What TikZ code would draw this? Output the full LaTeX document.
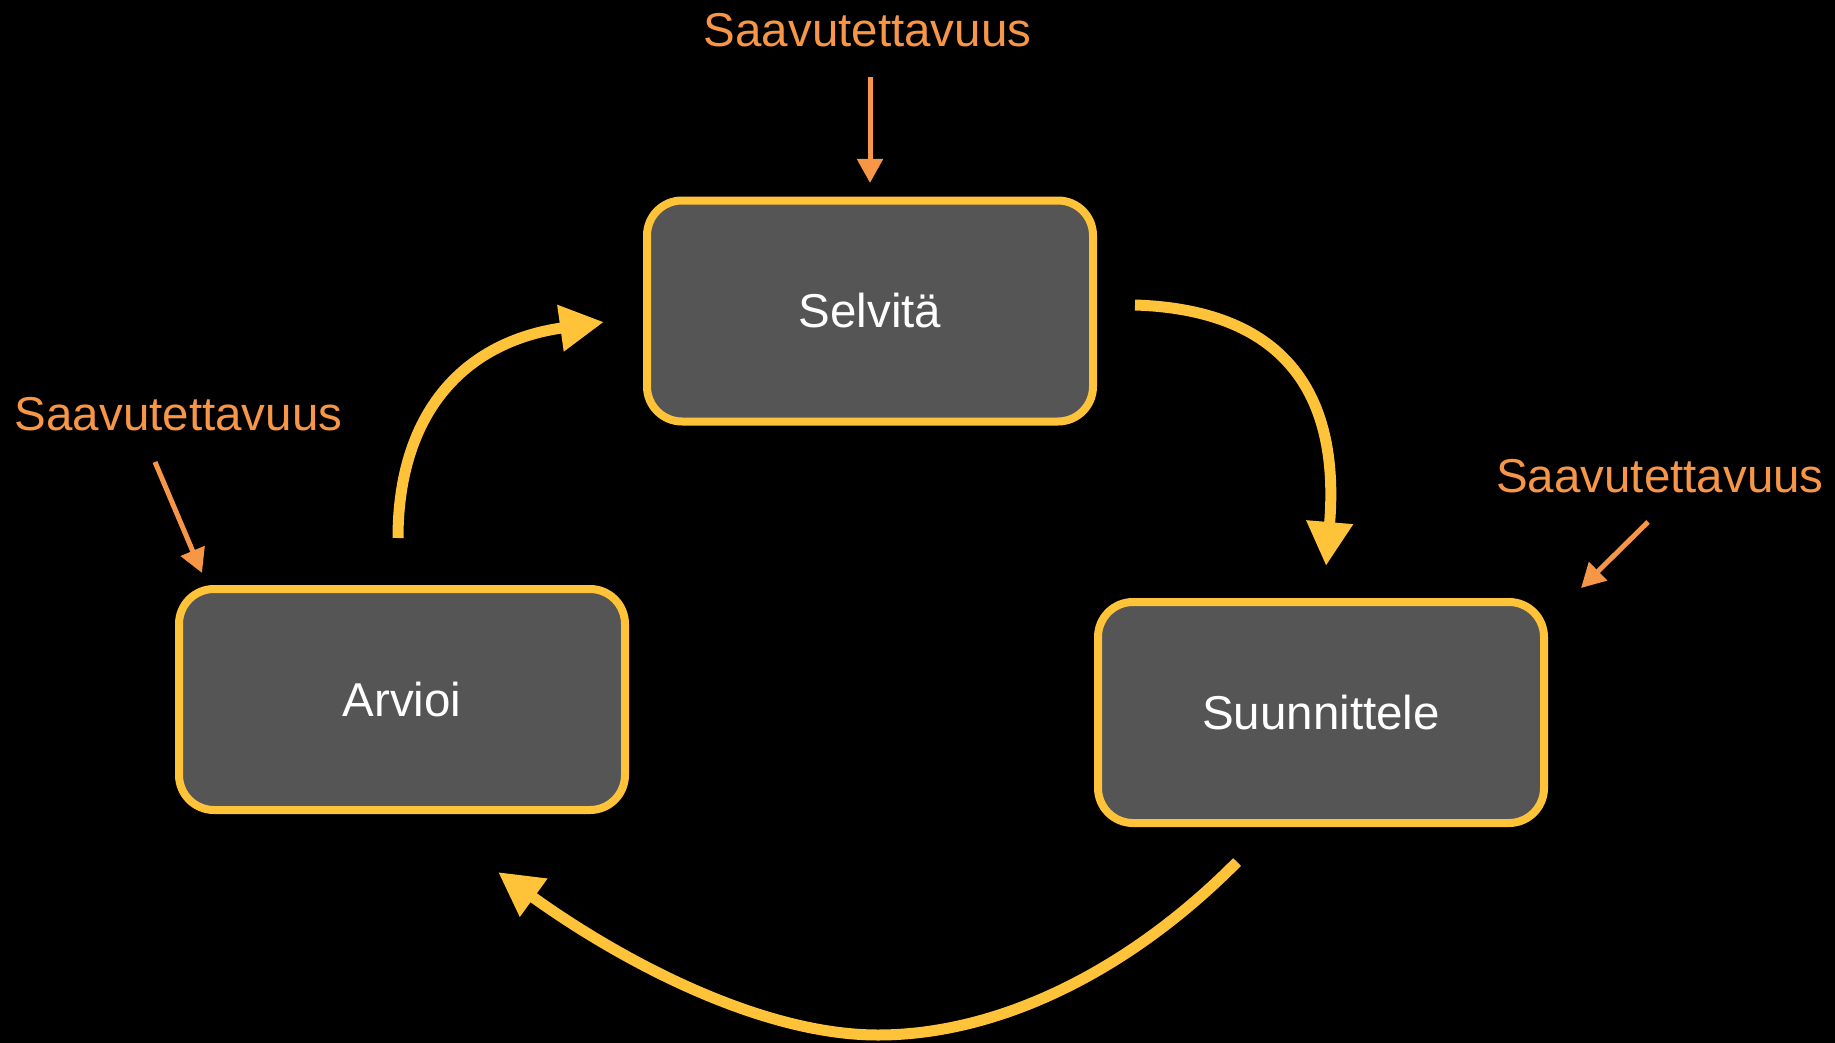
\documentclass[tikz,border=0pt]{standalone}
\usepackage{fontspec}
\setmainfont{Liberation Sans}
\usetikzlibrary{arrows.meta}
\definecolor{boxfill}{HTML}{555555}
\definecolor{gold}{HTML}{FFC33A}
\definecolor{labelorange}{HTML}{F79646}
\begin{document}
\begin{tikzpicture}[x=1pt,y=-1pt,
 stepbox/.style={draw=gold, line width=8pt, fill=boxfill, rounded corners=35pt,
   minimum width=446pt, minimum height=221pt, inner sep=0pt, text=white,
   font=\fontsize{47.5}{57}\selectfont},
 lbl/.style={text=labelorange, font=\fontsize{47.5}{57}\selectfont, anchor=base, inner sep=0pt},
 flow/.style={draw=gold, line width=11pt, -{Triangle[length=44pt,width=44pt]}},
 hint/.style={draw=labelorange, line width=5pt, -{Triangle[length=24pt,width=25pt]}}]
\fill[black] (0,0) rectangle (1835,1043);
\useasboundingbox (0,0) rectangle (1835,1043);

\node[stepbox] (selvita) at (870,311) {Selvitä};
\node[stepbox] (suunnittele) at (1321,712.5) {Suunnittele};
\node[stepbox] (arvioi) at (402,699.5) {Arvioi};

\node[lbl] (l1) at (867.5,47) {Saavutettavuus};
\node[lbl] (l2) at (178.5,430) {Saavutettavuus};
\node[lbl] (l3) at (1660,492) {Saavutettavuus};

\coordinate (h1s) at (870,77);
\coordinate (h1e) at (870,183);
\coordinate (h2s) at (155,462);
\coordinate (h2e) at (202,573);
\coordinate (h3s) at (1648,522);
\coordinate (h3e) at (1581,588);
\draw[hint] (h1s) -- (h1e);
\draw[hint] (h2s) -- (h2e);
\draw[hint] (h3s) -- (h3e);

\coordinate (a1s) at (1135,305);
\coordinate (a1e) at (1326,566);
\coordinate (a2s) at (398,538);
\coordinate (a2e) at (604,322);
\coordinate (a3s) at (1237,862);
\coordinate (a3m) at (878,1035);
\coordinate (a3e) at (498,872);
\draw[flow] (a1s) .. controls (1290,310) and (1340,400) .. (a1e);
\draw[flow] (a2s) .. controls (398,415) and (462,342) .. (a2e);
\draw[flow] (a3s) .. controls (1130,970) and (1000,1035) .. (a3m)
  .. controls (760,1035) and (620,960) .. (a3e);
\end{tikzpicture}
\end{document}
